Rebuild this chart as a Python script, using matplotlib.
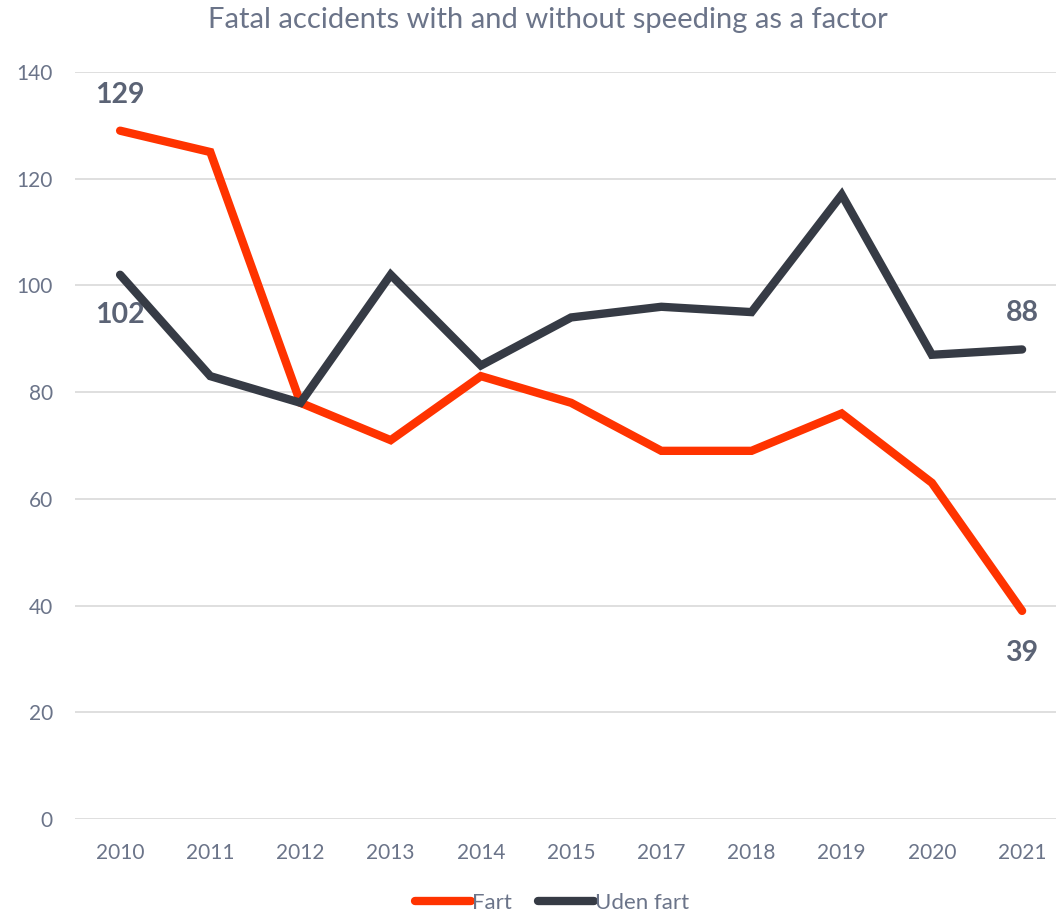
import matplotlib.pyplot as plt

years = ['2010', '2011', '2012', '2013', '2014', '2015', '2017', '2018', '2019', '2020', '2021']
fart = [129, 125, 78, 71, 83, 78, 69, 69, 76, 63, 39]
uden_fart = [102, 83, 78, 102, 85, 94, 96, 95, 117, 87, 88]

red = '#FF3300'
dark = '#363B45'
grey = '#6B7489'

plt.rcParams['font.family'] = ['Lato', 'DejaVu Sans']

fig = plt.figure(figsize=(10.56, 9.15), dpi=100)
ax = fig.add_axes([75 / 1056, 96 / 915, 981 / 1056, 747 / 915])

x = list(range(len(years)))
ax.plot(x, fart, color=red, lw=6, solid_capstyle='round', solid_joinstyle='miter', label='Fart', zorder=3)
ax.plot(x, uden_fart, color=dark, lw=6, solid_capstyle='round', solid_joinstyle='miter', label='Uden fart', zorder=4)

ax.set_xlim(-0.5, -0.5 + 981 / 90.2)
ax.set_ylim(0, 140)
ax.set_yticks(range(0, 141, 20))
ax.set_xticks(x)
ax.set_xticklabels(years)
ax.yaxis.grid(True, color='#D9D9D9', lw=1.2)
ax.set_axisbelow(True)
for s in ax.spines.values():
    s.set_visible(False)
ax.tick_params(length=0, colors=grey, labelsize=15)
ax.tick_params(axis='y', pad=16)
ax.tick_params(axis='x', pad=17)

lab = dict(textcoords='offset points', ha='center', va='center',
           fontsize=20.5, fontweight='bold', color='#5B6375')
ax.annotate(str(fart[0]), (0, fart[0]), xytext=(0, 26), **lab)
ax.annotate(str(uden_fart[0]), (0, uden_fart[0]), xytext=(0, -29), **lab)
ax.annotate(str(uden_fart[-1]), (10, uden_fart[-1]), xytext=(0, 26), **lab)
ax.annotate(str(fart[-1]), (10, fart[-1]), xytext=(0, -30), **lab)

fig.text(548 / 1056, 1 - 20 / 915, 'Fatal accidents with and without speeding as a factor',
         ha='center', va='center', fontsize=21, color=grey)

leg = fig.legend(loc='center', bbox_to_anchor=(552 / 1056, 1 - 903 / 915), ncol=2, frameon=False,
                 fontsize=16, handlelength=2.5, handletextpad=0.05, columnspacing=1.2)
for t in leg.get_texts():
    t.set_color(grey)

fig.savefig('out.png', dpi=100)
